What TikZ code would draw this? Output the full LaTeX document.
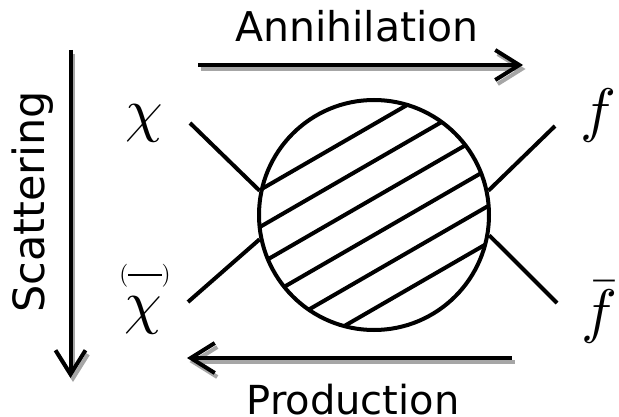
\documentclass[tikz,border=0pt]{standalone}
\usepackage[no-math]{fontspec}
\setmainfont{DejaVu Sans}
\usetikzlibrary{arrows.meta}

\begin{document}
\begin{tikzpicture}[x=1pt,y=-1pt,
  leg/.style={line width=4pt},
  hatch/.style={line width=4pt},
  flow/.style={line width=4pt,-{Straight Barb[length=24pt,width=30pt]}},
  flowshadow/.style={flow,draw=black!35},
  word/.style={inner sep=0pt,anchor=base},
  sym/.style={inner sep=0pt,anchor=base,font=\fontsize{10}{10}\selectfont,scale=6}]
\useasboundingbox (0,0) rectangle (619,417);

% the interaction blob
\node[draw,circle,line width=4pt,minimum size=230pt,inner sep=0pt] (blob) at (374,215) {};
\begin{scope}
  \clip (blob.center) circle[radius=115];
  \foreach \d in {78.7,46.7,14.7,-17.3,-49.3,-81.3}
    \draw[hatch] ([shift={({-0.5*\d-121.2},{-0.866*\d+70})}]blob.center)
              -- ([shift={({-0.5*\d+121.2},{-0.866*\d-70})}]blob.center);
\end{scope}

% external legs
\coordinate (chi-end) at (190,123);
\coordinate (chibar-end) at (188,302);
\coordinate (f-end) at (555,126);
\coordinate (fbar-end) at (557,303);
\draw[leg] (chi-end) -- (blob.168);
\draw[leg] (chibar-end) -- (blob.192);
\draw[leg] (f-end) -- (blob.12);
\draw[leg] (fbar-end) -- (blob.-10);

% particle labels
\node[sym] (chi) at (144,131) {$\chi$};
\node[sym] (chibar) at (143,322) {$\chi$};
\node[word,font=\fontsize{10}{10}\selectfont,scale=2.3] (chibar-paren) at (145,281)
  {$($\raisebox{2.1pt}{\rule{14.5pt}{0.75pt}}$)$};
\node[sym] (f) at (598,131) {$f$};
\node[sym] (fbar) at (599,331) {$\skew{3}\bar{f}$};

% process labels
\node[word,font=\fontsize{41}{41}\selectfont] (ann) at (357,42) {Annihilation};
\node[word,font=\fontsize{40}{40}\selectfont] (prod) at (353,414) {Production};
\node[word,font=\fontsize{43}{43}\selectfont,rotate=90] (scat) at (45,202) {Scattering};

% direction arrows with drop shadows
\coordinate (ann-start) at (198,65);
\coordinate (ann-end) at (523,65);
\coordinate (prod-start) at (512,358);
\coordinate (prod-end) at (187,358);
\coordinate (scat-start) at (70.5,50);
\coordinate (scat-end) at (70.5,378);
\foreach \a/\b in {ann-start/ann-end,prod-start/prod-end,scat-start/scat-end}
  \draw[flowshadow] ([shift={(2.5,4)}]\a) -- ([shift={(2.5,4)}]\b);
\draw[flow] (ann-start) -- (ann-end);
\draw[flow] (prod-start) -- (prod-end);
\draw[flow] (scat-start) -- (scat-end);
\end{tikzpicture}
\end{document}
